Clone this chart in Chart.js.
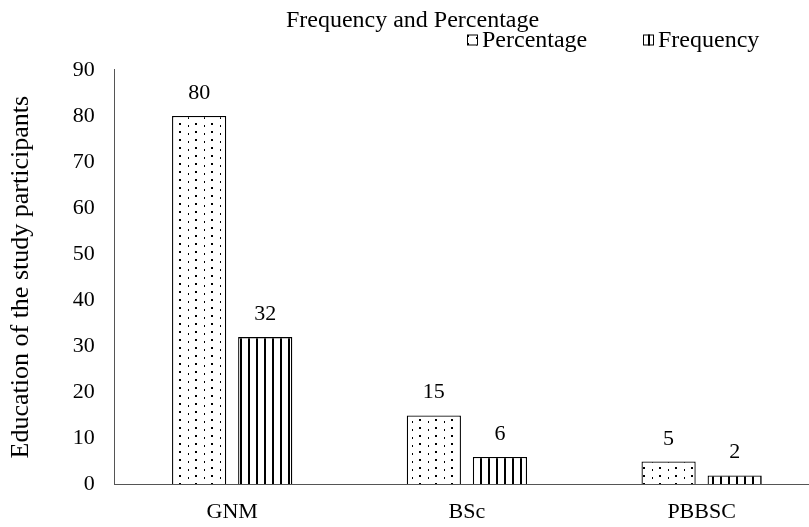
<!DOCTYPE html>
<html>
<head>
<meta charset="utf-8">
<script src="https://cdn.jsdelivr.net/npm/chart.js@4/dist/chart.umd.min.js"></script>
<style>
  html, body { margin: 0; padding: 0; background: #fff; overflow: hidden; }
  #wrap { width: 822px; height: 527px; }
</style>
</head>
<body>
<div id="wrap"><canvas id="c" width="822" height="527"></canvas></div>
<script>
// Education level of the participants
const categories = ['GNM', 'BSc', 'PBBSC'];
const percentage = [80, 15, 5];
const frequency = [32, 6, 2];
const yMin = 0, yMax = 90, yStep = 10;

const FONT = '"Liberation Serif", "Times New Roman", serif';

// Dotted fill: rows of large and small dots
function dotPattern() {
  const t = document.createElement('canvas');
  t.width = 16; t.height = 8;
  const g = t.getContext('2d');
  g.fillStyle = '#fff'; g.fillRect(0, 0, 16, 8);
  g.fillStyle = '#000';
  g.fillRect(3, 3, 2, 2);
  g.fillRect(12, 5, 1, 2);
  return g.createPattern(t, 'repeat');
}

// Vertical-line fill
function stripePattern() {
  const t = document.createElement('canvas');
  t.width = 8; t.height = 4;
  const g = t.getContext('2d');
  g.fillStyle = '#fff'; g.fillRect(0, 0, 8, 4);
  g.fillStyle = '#000';
  g.fillRect(0, 0, 2, 4);
  return g.createPattern(t, 'repeat');
}

// Value printed above each bar
const valueLabels = {
  id: 'valueLabels',
  afterDatasetsDraw(chart) {
    const ctx = chart.ctx;
    ctx.save();
    ctx.font = '22px ' + FONT;
    ctx.fillStyle = '#000';
    ctx.textAlign = 'center';
    ctx.textBaseline = 'alphabetic';
    chart.data.datasets.forEach((ds, i) => {
      chart.getDatasetMeta(i).data.forEach((bar, j) => {
        ctx.fillText(String(ds.data[j]), bar.x, bar.y - 17);
      });
    });
    ctx.restore();
  }
};

// Legend row at the top right: pattern swatch followed by the series name
const swatchLegend = {
  id: 'swatchLegend',
  afterDraw(chart, args, opts) {
    const ctx = chart.ctx;
    ctx.save();
    ctx.font = opts.fontSize + 'px ' + FONT;
    ctx.textBaseline = 'middle';
    ctx.textAlign = 'left';
    chart.data.datasets.forEach((ds, i) => {
      const x = opts.x[i], y = opts.y;
      const s = opts.box;
      ctx.fillStyle = ds.backgroundColor;
      ctx.fillRect(x, y - s / 2, s, s);
      ctx.strokeStyle = '#000';
      ctx.lineWidth = 1;
      ctx.strokeRect(x + 0.5, y - s / 2 + 0.5, s - 1, s - 1);
      ctx.fillStyle = '#000';
      ctx.fillText(ds.label, x + s + 4, y + 1);
    });
    ctx.restore();
  }
};

new Chart(document.getElementById('c'), {
  type: 'bar',
  data: {
    labels: categories,
    datasets: [
      {
        label: 'Percentage',
        data: percentage,
        backgroundColor: dotPattern(),
        borderColor: '#000',
        borderWidth: 1.3,
        categoryPercentage: 0.563,
        barPercentage: 0.82
      },
      {
        label: 'Frequency',
        data: frequency,
        backgroundColor: stripePattern(),
        borderColor: '#000',
        borderWidth: 1.3,
        categoryPercentage: 0.563,
        barPercentage: 0.82
      }
    ]
  },
  options: {
    responsive: false,
    animation: false,
    devicePixelRatio: 1,
    layout: { padding: { left: 6, right: 3, top: 0, bottom: -12 } },
    plugins: {
      title: {
        display: true,
        text: 'Frequency and Percentage',
        color: '#000',
        font: { family: FONT, size: 24, weight: 'normal' },
        padding: { top: 6, bottom: 35 }
      },
      legend: { display: false },
      swatchLegend: { x: [467, 643], y: 40, box: 11, fontSize: 24 },
      tooltip: { enabled: false }
    },
    scales: {
      x: {
        grid: { display: true, drawOnChartArea: false, drawTicks: false },
        border: { display: true, color: '#555', width: 1 },
        ticks: { color: '#000', font: { family: FONT, size: 22 }, padding: 14 }
      },
      y: {
        min: yMin,
        max: yMax,
        grid: { display: true, drawOnChartArea: false, drawTicks: false },
        border: { display: true, color: '#555', width: 1 },
        ticks: { stepSize: yStep, color: '#000', font: { family: FONT, size: 22 }, padding: 20 },
        title: {
          display: true,
          text: 'Education of the study participants',
          color: '#000',
          font: { family: FONT, size: 26 },
          padding: { top: 0, bottom: 15.6 }
        }
      }
    }
  },
  plugins: [valueLabels, swatchLegend]
});
</script>
</body>
</html>
